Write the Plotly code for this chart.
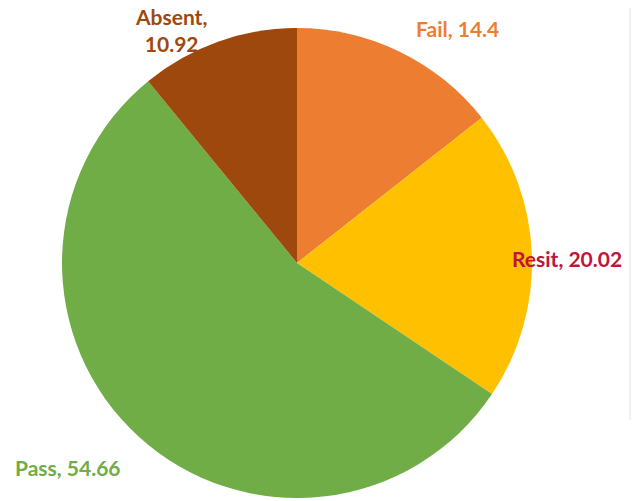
import plotly.graph_objects as go

# Exam outcome shares (percent)
categories = ["Fail", "Resit", "Pass", "Absent"]
shares = [14.4, 20.02, 54.66, 10.92]

slice_colors = ["#ED7D31", "#FFC000", "#70AD47", "#9E480E"]
label_colors = ["#ED7D31", "#C0143C", "#70AD47", "#9E480E"]

W, H = 640, 501
cx, cy, r = 297, 263, 235  # pie centre and radius in pixels

fig = go.Figure(
    go.Pie(
        labels=categories,
        values=shares,
        sort=False,
        direction="clockwise",
        rotation=0,
        textinfo="none",
        hoverinfo="label+value",
        marker=dict(colors=slice_colors, line=dict(width=0)),
        domain=dict(
            x=[(cx - r) / W, (cx + r) / W],
            y=[(H - cy - r) / H, (H - cy + r) / H],
        ),
        showlegend=False,
    )
)

# Data label placement (pixels from top-left) for each category
label_pos = {
    "Fail": (457, 28),
    "Resit": (567, 258),
    "Pass": (68, 467),
    "Absent": (171, 30),
}

for name, val, col in zip(categories, shares, label_colors):
    px, py = label_pos[name]
    sep = ",<br>" if name == "Absent" else ", "
    fig.add_annotation(
        x=px / W,
        y=1 - py / H,
        xref="paper",
        yref="paper",
        text=f"<b>{name}{sep}{val:g}</b>",
        showarrow=False,
        xanchor="center",
        yanchor="middle",
        align="center",
        font=dict(family="Lato", size=21, color=col),
    )

# faint frame edge on the right
fig.add_shape(
    type="line",
    xref="paper",
    yref="paper",
    x0=630 / W,
    x1=630 / W,
    y0=1 - 420 / H,
    y1=1 - 8 / H,
    line=dict(color="#E2E2E2", width=1),
)

fig.update_layout(
    width=W,
    height=H,
    margin=dict(l=0, r=0, t=0, b=0),
    paper_bgcolor="white",
    plot_bgcolor="white",
)

fig.write_html("out.html")
